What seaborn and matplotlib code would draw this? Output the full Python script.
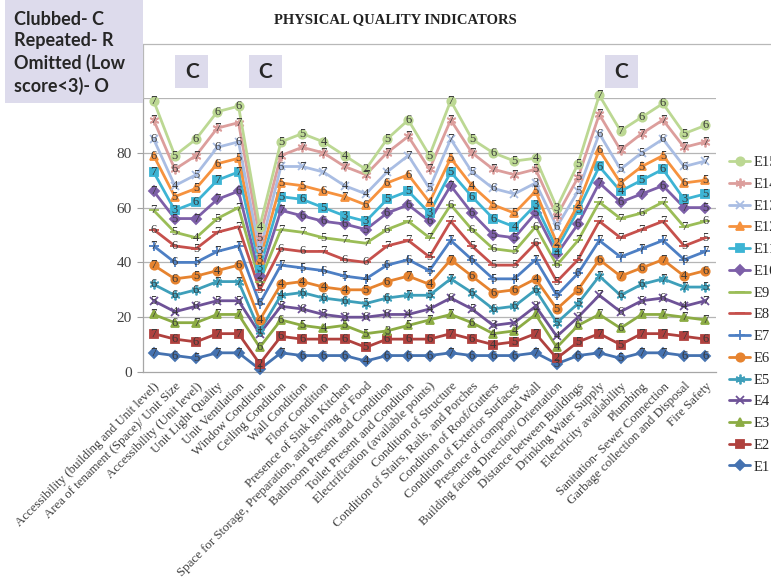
import numpy as np
import pandas as pd
import matplotlib
matplotlib.use("Agg")
import matplotlib.pyplot as plt
import seaborn as sns
from matplotlib.patches import Rectangle
from matplotlib.lines import Line2D

# Physical quality indicators (x categories)
indicators = [
    "Accessibility (building and Unit level)",
    "Area of tenament (Space)/ Unit Size",
    "Accessibility (Unit level)",
    "Unit Light Quality",
    "Unit Ventilation",
    "Window Condition",
    "Ceiling Condition",
    "Wall Condition",
    "Floor Condition",
    "Presence of Sink in Kitchen",
    "Space for Storage, Preparation, and Serving of Food",
    "Bathroom Present and Condition",
    "Toilet Present and Condition",
    "Electrification (available points)",
    "Condition of Structure",
    "Condition of Stairs, Rails, and Porches",
    "Condition of Roof/Gutters",
    "Condition of Exterior Surfaces",
    "Presence of compound Wall",
    "Building facing Direction/ Orientation",
    "Distance between Buildings",
    "Drinking Water Supply",
    "Electricity availability",
    "Plumbing",
    "Sanitation- Sewer Connection",
    "Garbage collection and Disposal",
    "Fire Safety",
]

# Scores given by each evaluator (stacked in the chart)
E1 = [7, 6, 5, 7, 7, 1, 7, 6, 6, 6, 4, 6, 6, 6, 7, 6, 6, 6, 7, 3, 6, 7, 5, 7, 7, 6, 6]
E2 = [7, 6, 6, 7, 7, 2, 6, 6, 6, 6, 5, 6, 6, 6, 7, 6, 4, 5, 7, 2, 5, 7, 5, 7, 7, 7, 6]
E3 = [7, 6, 7, 7, 7, 6, 6, 5, 4, 5, 5, 3, 5, 7, 7, 6, 4, 4, 7, 4, 6, 7, 6, 7, 7, 7, 7]
E4 = [5, 4, 6, 5, 5, 5, 5, 6, 5, 3, 6, 6, 4, 4, 6, 5, 3, 3, 3, 4, 3, 7, 6, 5, 6, 4, 7]
E5 = [6, 6, 6, 7, 7, 1, 4, 6, 6, 6, 5, 6, 7, 5, 7, 6, 6, 6, 6, 5, 5, 7, 6, 6, 7, 7, 5]
E6 = [7, 6, 5, 4, 6, 4, 4, 4, 4, 4, 5, 6, 7, 4, 7, 6, 6, 6, 4, 5, 5, 6, 7, 6, 7, 4, 6]
E7 = [7, 6, 5, 7, 7, 6, 7, 5, 6, 5, 4, 6, 6, 5, 7, 6, 5, 4, 7, 5, 6, 7, 7, 7, 7, 6, 7]
E8 = [6, 6, 5, 7, 7, 5, 6, 6, 7, 6, 6, 7, 7, 5, 7, 5, 5, 5, 6, 5, 5, 7, 7, 7, 7, 5, 5]
E9 = [7, 5, 4, 5, 7, 3, 7, 7, 5, 7, 7, 6, 7, 7, 6, 6, 6, 5, 6, 6, 7, 7, 7, 6, 7, 7, 6]
E10 = [7, 5, 7, 7, 6, 2, 7, 6, 6, 6, 5, 6, 6, 6, 7, 6, 5, 5, 5, 4, 6, 7, 6, 7, 6, 7, 5]
E11 = [7, 3, 6, 7, 7, 3, 5, 6, 5, 3, 3, 5, 5, 3, 5, 6, 6, 4, 3, 2, 5, 6, 4, 5, 6, 3, 5]
E12 = [6, 5, 5, 6, 5, 3, 5, 5, 6, 7, 6, 6, 6, 4, 5, 4, 5, 5, 5, 2, 2, 6, 3, 5, 5, 6, 5]
E13 = [6, 4, 5, 6, 6, 3, 6, 7, 7, 4, 4, 4, 7, 5, 7, 5, 6, 7, 3, 6, 5, 6, 5, 5, 6, 6, 7]
E14 = [7, 6, 7, 7, 7, 5, 4, 7, 7, 7, 7, 7, 7, 7, 7, 7, 7, 7, 5, 4, 5, 7, 7, 7, 7, 7, 7]
E15 = [7, 5, 6, 6, 6, 4, 5, 5, 4, 4, 2, 5, 6, 5, 7, 5, 6, 5, 4, 3, 5, 7, 7, 6, 6, 5, 6]

series_names = ["E1", "E2", "E3", "E4", "E5", "E6", "E7", "E8",
                "E9", "E10", "E11", "E12", "E13", "E14", "E15"]
scores = [E1, E2, E3, E4, E5, E6, E7, E8, E9, E10, E11, E12, E13, E14, E15]

# Grouping notes shown above the chart
note_text = "Clubbed- C\nRepeated- R\nOmitted (Low\nscore<3)- O"
clubbed_tags = ["C", "C", "C"]
clubbed_pos = [1.8, 5.25, 22.05]   # in category units

colors = ["#4572b0", "#b0413e", "#8cac44", "#6e5297", "#3e9fba", "#e6832f",
          "#4d7fc4", "#c6504c", "#9bbd57", "#7d5fa8", "#3db4d4", "#f6923e",
          "#a9bde3", "#dc9e9c", "#bcd893"]
markers = ["D", "s", "^", "x", (6, 2, 0), "o", "+", "_",
           "_", "D", "s", "^", "x", (6, 2, 0), "o"]
msizes = [5, 6, 6, 6, 7, 6, 7, 7, 7, 5, 6, 6, 6, 7, 6]

sns.set_theme(style="white")
plt.rcParams["font.family"] = ["Liberation Serif", "DejaVu Serif"]

W, H = 771, 584
fig = plt.figure(figsize=(W / 100, H / 100), dpi=100)
fig.patch.set_facecolor("white")

left, right, top, bottom = 143, 716, 98, 372
ax = fig.add_axes([left / W, 1 - bottom / H, (right - left) / W, (bottom - top) / H])

pos = np.arange(len(indicators))
stacked = np.cumsum(np.array(scores), axis=0)

records = []
for name, vals, tops in zip(series_names, scores, stacked):
    for p, v, t in zip(pos, vals, tops):
        records.append({"series": name, "pos": p, "score": v, "stacked": t})
df = pd.DataFrame(records)

for i, name in enumerate(series_names):
    sub = df[df["series"] == name]
    sns.lineplot(data=sub, x="pos", y="stacked", ax=ax, color=colors[i],
                 linewidth=2.0, marker=markers[i], markersize=msizes[i],
                 markeredgecolor=colors[i], markeredgewidth=1.3,
                 legend=False, clip_on=False, zorder=3 + i * 0.01)
    for _, r in sub.iterrows():
        ax.text(r["pos"], r["stacked"], f"{int(r['score'])}", ha="center",
                va="center", fontsize=9, color="#383838", zorder=5)

ax.set_xlim(-0.5, len(indicators) - 0.5)
ax.set_ylim(0, 100)
ax.set_yticks([0, 20, 40, 60, 80])
ax.set_yticklabels(["0", "20", "40", "60", "80"], fontsize=11, color="#404040")
for g in [20, 40, 60, 80, 100]:
    ax.axhline(g, color="#b5b5b5", linewidth=0.9, zorder=1)

ax.set_xticks(pos)
ax.set_xticklabels(indicators, rotation=45, ha="right", rotation_mode="anchor",
                   fontsize=9.3, color="#404040")
ax.set_xticks(np.arange(-0.5, len(indicators), 1.0), minor=True)
ax.tick_params(axis="x", which="major", length=0, pad=6)
ax.tick_params(axis="x", which="minor", length=5, color="#a0a0a0", width=0.8)
ax.tick_params(axis="y", which="major", length=4, color="#a0a0a0", width=0.8,
               left=True, pad=4)
ax.set_xlabel("")
ax.set_ylabel("")
for s in ["top", "right"]:
    ax.spines[s].set_visible(False)
for s in ["left", "bottom"]:
    ax.spines[s].set_color("#a6a6a6")
    ax.spines[s].set_linewidth(0.9)
ax.grid(False)

# Title
fig.text(395 / W, 1 - 20 / H, "PHYSICAL QUALITY INDICATORS", ha="center",
         va="center", fontsize=10.5, fontweight="bold", color="#222222")

# Chart-area outline
fig.add_artist(Line2D([left / W, 1.0], [1 - 44 / H, 1 - 44 / H],
                      transform=fig.transFigure, color="#b8b8b8", linewidth=0.9))
fig.add_artist(Line2D([left / W, left / W], [1 - 44 / H, 1 - top / H],
                      transform=fig.transFigure, color="#b8b8b8", linewidth=0.9))

box_color = "#dddbec"
# Notes box
fig.add_artist(Rectangle((5 / W, 1 - 103 / H), 138 / W, 103 / H,
                         transform=fig.transFigure, facecolor=box_color,
                         edgecolor="none", zorder=10))
fig.text(14 / W, 1 - 53 / H, note_text, ha="left", va="center", fontsize=13,
         fontweight="bold", family=["Lato", "DejaVu Sans"],
         color="#262626", linespacing=1.3, zorder=11)

# "C" tags above clubbed indicators
cat_w = (right - left) / len(indicators)
for tag, cpos in zip(clubbed_tags, clubbed_pos):
    xpix = left + (cpos + 0.5) * cat_w
    bw, bh = 33, 33
    fig.add_artist(Rectangle(((xpix - bw / 2) / W, 1 - 88 / H), bw / W, bh / H,
                             transform=fig.transFigure, facecolor=box_color,
                             edgecolor="none", zorder=10))
    fig.text(xpix / W, 1 - 71.5 / H, tag, ha="center", va="center",
             fontsize=15, fontweight="bold", family=["Lato", "DejaVu Sans"],
             color="#262626", zorder=11)

# Legend (top series first)
handles = []
for i in reversed(range(len(series_names))):
    handles.append(Line2D([0], [0], color=colors[i], linewidth=2.0,
                          marker=markers[i], markersize=msizes[i],
                          markeredgecolor=colors[i], markeredgewidth=1.3))
labels = list(reversed(series_names))
fig.legend(handles, labels, loc="upper left",
           bbox_to_anchor=(729 / W, 1 - 156 / H), frameon=False, fontsize=10.5,
           handlelength=1.45, handletextpad=0.25, labelspacing=0.585,
           borderaxespad=0, borderpad=0, numpoints=1)

fig.savefig("out.png", dpi=100)
